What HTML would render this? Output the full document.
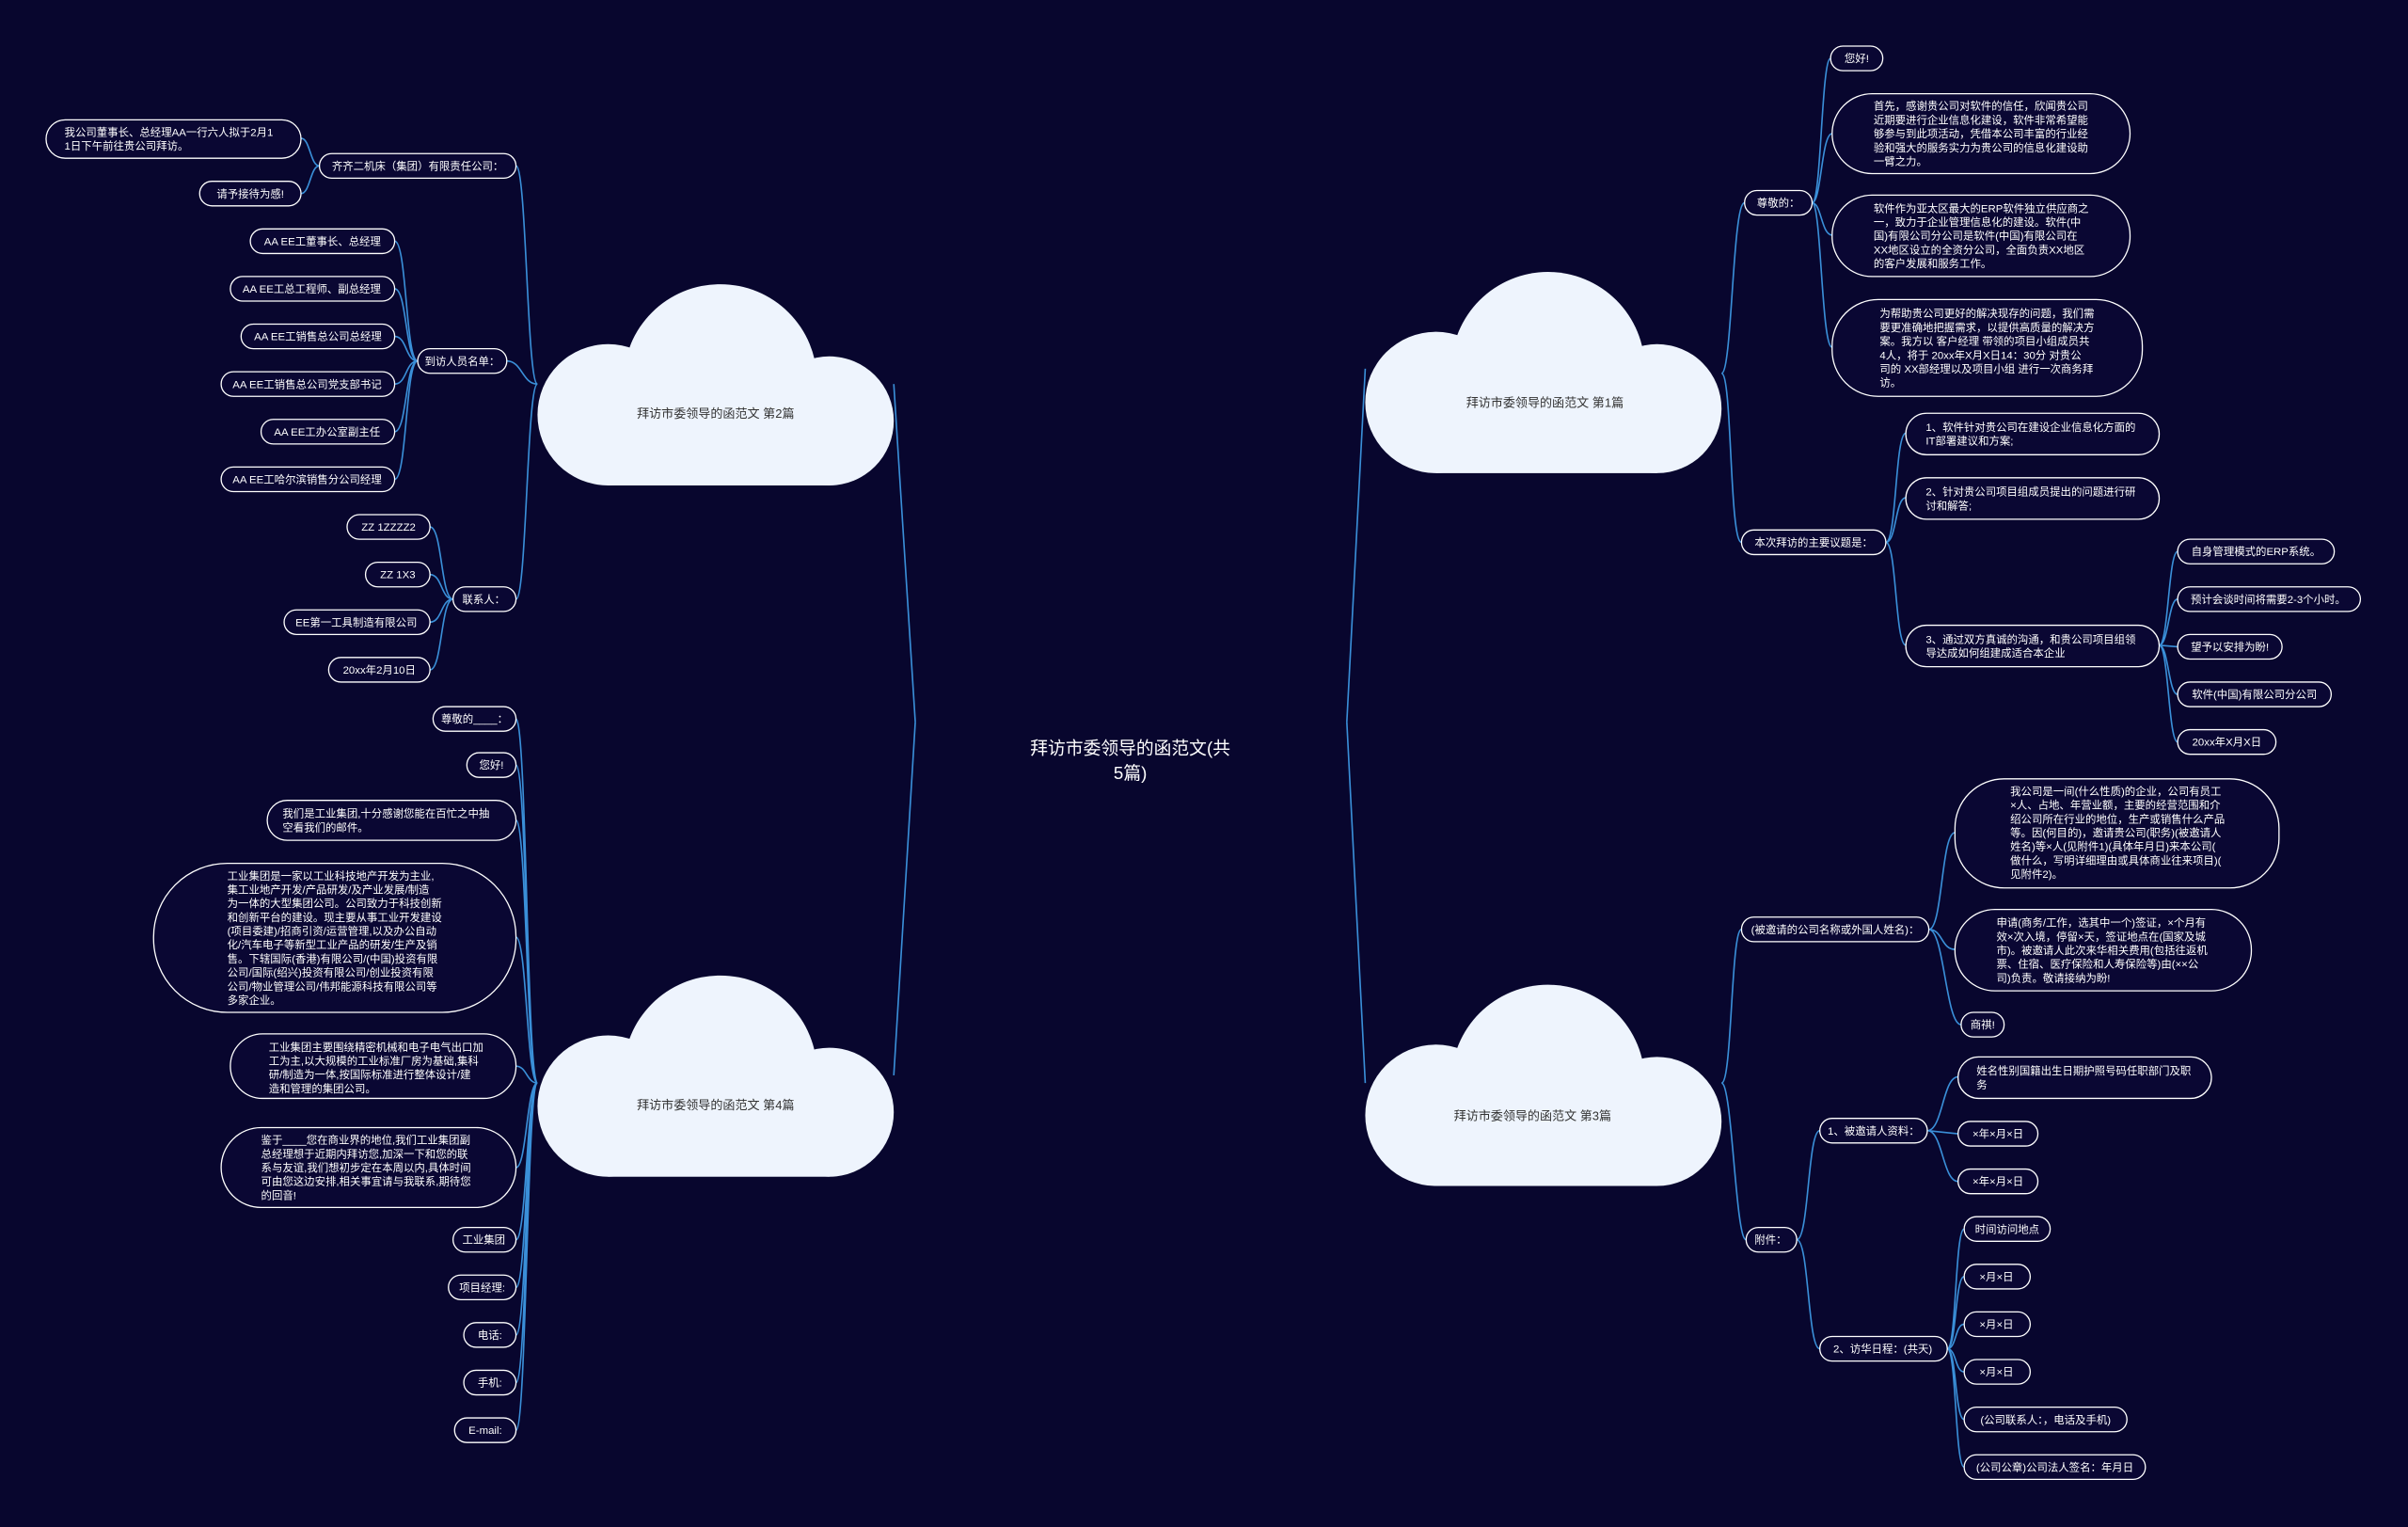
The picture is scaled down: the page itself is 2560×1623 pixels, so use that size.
<!DOCTYPE html>
<html><head><meta charset="utf-8"><style>
html,body{margin:0;padding:0;background:#08062e;width:2560px;height:1623px;overflow:hidden}
svg{display:block}
text{font-family:"Liberation Sans","Noto Sans CJK SC",sans-serif;font-size:7px;fill:#fff}
.p{fill:#0a0733;stroke:#fff;stroke-width:0.8}
.l{fill:none;stroke:#3a8fd8;stroke-width:1}
.c{fill:#eef4fd}
.ct{fill:#333;font-size:8px}
</style></head><body>
<svg width="2560" height="1623" viewBox="0 0 1568 994" preserveAspectRatio="none" xml:space="preserve">
<rect width="1568" height="994" fill="#08062e"/>
<!-- connectors center -->
<path class="l" d="M877 470 L889 240 M877 470 L889 705 M596 470 L582 250 M596 470 L582 700"/>
<!-- C1 connectors -->
<path class="l" d="M1121 243 C1128 243 1128 132 1136 132 M1121 243 C1128 243 1126 353 1134 353
M1180 132 C1186 132 1186 38 1192 38 M1180 132 C1186 132 1186 87 1193 87 M1180 132 C1186 132 1186 153 1193 153 M1180 132 C1186 132 1186 226 1193 226
M1228 353 C1235 353 1234 282 1241 282 M1228 353 C1235 353 1234 324 1241 324 M1228 353 C1235 353 1234 420 1241 420
M1406 420 C1412 420 1412 359 1418 359 M1406 420 C1412 420 1412 390 1418 390 M1406 420 L1418 421 M1406 420 C1412 420 1412 452 1418 452 M1406 420 C1412 420 1412 483 1418 483"/>
<!-- C3 connectors -->
<path class="l" d="M1121 705 C1128 705 1127 605 1134 605 M1121 705 C1128 705 1130 807 1137 807
M1256 605 C1265 605 1264 542 1273 542 M1256 605 C1265 605 1264 618 1273 618 M1256 605 C1266 605 1267 667 1277 667
M1170 807 C1178 807 1177 736 1185 736 M1170 807 C1178 807 1177 878 1185 878
M1255 736 C1265 736 1265 701 1275 701 M1255 736 L1275 738 M1255 736 C1265 736 1265 769 1275 769
M1268 878 C1274 878 1273 800 1279 800 M1268 878 C1274 878 1273 831 1279 831 M1268 878 C1274 878 1273 862 1279 862 M1268 878 C1274 878 1273 893 1279 893 M1268 878 C1274 878 1273 924 1279 924 M1268 878 C1274 878 1273 955 1279 955"/>
<!-- C2 connectors -->
<path class="l" d="M350 250 C343 250 343 108 336 108 M350 250 C340 250 340 235 330 235 M350 250 C343 250 343 390 336 390
M208 108 C202 108 202 90 196 90 M208 108 C202 108 202 126 196 126
M272 235 C264 235 265 157 257 157 M272 235 C264 235 265 188 257 188 M272 235 C264 235 265 219 257 219 M272 235 C264 235 265 250 257 250 M272 235 C264 235 265 281 257 281 M272 235 C264 235 265 312 257 312
M295 390 C287 390 288 343 280 343 M295 390 C287 390 288 374 280 374 M295 390 C287 390 288 405 280 405 M295 390 C287 390 288 436 280 436"/>
<!-- C4 connectors -->
<path class="l" d="M350 705 C343 705 343 468 336 468 M350 705 C343 705 343 498 336 498 M350 705 C343 705 343 534 336 534 M350 705 C343 705 343 610 336 610 M350 705 C343 705 343 694 336 694 M350 705 C343 705 343 760 336 760 M350 705 C343 705 343 807 336 807 M350 705 C343 705 343 838 336 838 M350 705 C343 705 343 869 336 869 M350 705 C343 705 343 900 336 900 M350 705 C343 705 343 931 336 931"/>

<!-- clouds -->
<g class="c"><circle cx="935" cy="262" r="46"/><circle cx="1008" cy="240" r="63"/><circle cx="1079" cy="266" r="42"/><rect x="935" y="240" width="144" height="68"/></g>
<text class="ct" x="1006" y="265" text-anchor="middle">拜访市委领导的函范文 第1篇</text>
<g class="c"><circle cx="396" cy="270" r="46"/><circle cx="469" cy="248" r="63"/><circle cx="540" cy="274" r="42"/><rect x="396" y="248" width="144" height="68"/></g>
<text class="ct" x="466" y="272" text-anchor="middle">拜访市委领导的函范文 第2篇</text>
<g class="c"><circle cx="935" cy="726" r="46"/><circle cx="1008" cy="704" r="63"/><circle cx="1079" cy="730" r="42"/><rect x="935" y="704" width="144" height="68"/></g>
<text class="ct" x="998" y="729" text-anchor="middle">拜访市委领导的函范文 第3篇</text>
<g class="c"><circle cx="396" cy="720" r="46"/><circle cx="469" cy="698" r="63"/><circle cx="540" cy="724" r="42"/><rect x="396" y="698" width="144" height="68"/></g>
<text class="ct" x="466" y="722" text-anchor="middle">拜访市委领导的函范文 第4篇</text>

<!-- center -->
<text x="736" y="491" text-anchor="middle" style="font-size:11.5px">拜访市委领导的函范文(共</text>
<text x="736" y="507" text-anchor="middle" style="font-size:11.5px">5篇)</text>

<!-- single pills -->
<g>
<rect class="p" x="1136" y="124" width="44" height="16" rx="8"/><text x="1158" y="134.5" text-anchor="middle">尊敬的：</text>
<rect class="p" x="1192" y="30" width="34" height="16" rx="8"/><text x="1209" y="40.5" text-anchor="middle">您好!</text>
<rect class="p" x="1134" y="345" width="94" height="16" rx="8"/><text x="1181" y="355.5" text-anchor="middle">本次拜访的主要议题是：</text>
<rect class="p" x="1418" y="351" width="102" height="16" rx="8"/><text x="1469" y="361.5" text-anchor="middle">自身管理模式的ERP系统。</text>
<rect class="p" x="1418" y="382" width="119" height="16" rx="8"/><text x="1477" y="392.5" text-anchor="middle">预计会谈时间将需要2-3个小时。</text>
<rect class="p" x="1418" y="413" width="68" height="16" rx="8"/><text x="1452" y="423.5" text-anchor="middle">望予以安排为盼!</text>
<rect class="p" x="1418" y="444" width="100" height="16" rx="8"/><text x="1468" y="454.5" text-anchor="middle">软件(中国)有限公司分公司</text>
<rect class="p" x="1418" y="475" width="64" height="16" rx="8"/><text x="1450" y="485.5" text-anchor="middle">20xx年X月X日</text>
<rect class="p" x="1134" y="597" width="122" height="16" rx="8"/><text x="1195" y="607.5" text-anchor="middle">(被邀请的公司名称或外国人姓名)：</text>
<rect class="p" x="1277" y="659" width="28" height="16" rx="8"/><text x="1291" y="669.5" text-anchor="middle">商祺!</text>
<rect class="p" x="1137" y="799" width="33" height="16" rx="8"/><text x="1153" y="809.5" text-anchor="middle">附件：</text>
<rect class="p" x="1185" y="728" width="70" height="16" rx="8"/><text x="1220" y="738.5" text-anchor="middle">1、被邀请人资料：</text>
<rect class="p" x="1185" y="870" width="83" height="16" rx="8"/><text x="1226" y="880.5" text-anchor="middle">2、访华日程：(共天)</text>
<rect class="p" x="1275" y="730" width="52" height="16" rx="8"/><text x="1301" y="740.5" text-anchor="middle">×年×月×日</text>
<rect class="p" x="1275" y="761" width="52" height="16" rx="8"/><text x="1301" y="771.5" text-anchor="middle">×年×月×日</text>
<rect class="p" x="1279" y="792" width="56" height="16" rx="8"/><text x="1307" y="802.5" text-anchor="middle">时间访问地点</text>
<rect class="p" x="1279" y="823" width="43" height="16" rx="8"/><text x="1300" y="833.5" text-anchor="middle">×月×日</text>
<rect class="p" x="1279" y="854" width="43" height="16" rx="8"/><text x="1300" y="864.5" text-anchor="middle">×月×日</text>
<rect class="p" x="1279" y="885" width="43" height="16" rx="8"/><text x="1300" y="895.5" text-anchor="middle">×月×日</text>
<rect class="p" x="1279" y="916" width="106" height="16" rx="8"/><text x="1332" y="926.5" text-anchor="middle">(公司联系人：，电话及手机)</text>
<rect class="p" x="1279" y="947" width="118" height="16" rx="8"/><text x="1338" y="957.5" text-anchor="middle">(公司公章)公司法人签名：年月日</text>

<rect class="p" x="208" y="100" width="128" height="16" rx="8"/><text x="272" y="110.5" text-anchor="middle">齐齐二机床（集团）有限责任公司：</text>
<rect class="p" x="130" y="118" width="66" height="16" rx="8"/><text x="163" y="128.5" text-anchor="middle">请予接待为感!</text>
<rect class="p" x="272" y="227" width="58" height="16" rx="8"/><text x="301" y="237.5" text-anchor="middle">到访人员名单：</text>
<rect class="p" x="163" y="149" width="94" height="16" rx="8"/><text x="210" y="159.5" text-anchor="middle">AA  EE工董事长、总经理</text>
<rect class="p" x="150" y="180" width="107" height="16" rx="8"/><text x="203" y="190.5" text-anchor="middle">AA  EE工总工程师、副总经理</text>
<rect class="p" x="157" y="211" width="100" height="16" rx="8"/><text x="207" y="221.5" text-anchor="middle">AA  EE工销售总公司总经理</text>
<rect class="p" x="144" y="242" width="113" height="16" rx="8"/><text x="200" y="252.5" text-anchor="middle">AA  EE工销售总公司党支部书记</text>
<rect class="p" x="170" y="273" width="87" height="16" rx="8"/><text x="213" y="283.5" text-anchor="middle">AA  EE工办公室副主任</text>
<rect class="p" x="144" y="304" width="113" height="16" rx="8"/><text x="200" y="314.5" text-anchor="middle">AA  EE工哈尔滨销售分公司经理</text>
<rect class="p" x="295" y="382" width="41" height="16" rx="8"/><text x="315" y="392.5" text-anchor="middle">联系人：</text>
<rect class="p" x="226" y="335" width="54" height="16" rx="8"/><text x="253" y="345.5" text-anchor="middle">ZZ  1ZZZZ2</text>
<rect class="p" x="238" y="366" width="42" height="16" rx="8"/><text x="259" y="376.5" text-anchor="middle">ZZ  1X3</text>
<rect class="p" x="185" y="397" width="95" height="16" rx="8"/><text x="232" y="407.5" text-anchor="middle">EE第一工具制造有限公司</text>
<rect class="p" x="214" y="428" width="66" height="16" rx="8"/><text x="247" y="438.5" text-anchor="middle">20xx年2月10日</text>
<rect class="p" x="282" y="460" width="54" height="16" rx="8"/><text x="309" y="470.5" text-anchor="middle">尊敬的____：</text>
<rect class="p" x="304" y="490" width="32" height="16" rx="8"/><text x="320" y="500.5" text-anchor="middle">您好!</text>
<rect class="p" x="295" y="799" width="41" height="16" rx="8"/><text x="315" y="809.5" text-anchor="middle">工业集团</text>
<rect class="p" x="292" y="830" width="44" height="16" rx="8"/><text x="314" y="840.5" text-anchor="middle">项目经理:</text>
<rect class="p" x="302" y="861" width="34" height="16" rx="8"/><text x="319" y="871.5" text-anchor="middle">电话:</text>
<rect class="p" x="302" y="892" width="34" height="16" rx="8"/><text x="319" y="902.5" text-anchor="middle">手机:</text>
<rect class="p" x="296" y="923" width="40" height="16" rx="8"/><text x="316" y="933.5" text-anchor="middle">E-mail:</text>
</g>

<!-- multi-line pills -->
<rect class="p" x="1193" y="61" width="194" height="52" rx="26"/>
<text x="1220" y="71.5"><tspan x="1220">首先，感谢贵公司对软件的信任，欣闻贵公司</tspan><tspan x="1220" dy="9">近期要进行企业信息化建设，软件非常希望能</tspan><tspan x="1220" dy="9">够参与到此项活动，凭借本公司丰富的行业经</tspan><tspan x="1220" dy="9">验和强大的服务实力为贵公司的信息化建设助</tspan><tspan x="1220" dy="9">一臂之力。</tspan></text>
<rect class="p" x="1193" y="127" width="194" height="53" rx="26"/>
<text x="1220" y="138"><tspan x="1220">软件作为亚太区最大的ERP软件独立供应商之</tspan><tspan x="1220" dy="9">一，致力于企业管理信息化的建设。软件(中</tspan><tspan x="1220" dy="9">国)有限公司分公司是软件(中国)有限公司在</tspan><tspan x="1220" dy="9">XX地区设立的全资分公司，全面负责XX地区</tspan><tspan x="1220" dy="9">的客户发展和服务工作。</tspan></text>
<rect class="p" x="1193" y="195" width="202" height="63" rx="30"/>
<text x="1224" y="206.5"><tspan x="1224">为帮助贵公司更好的解决现存的问题，我们需</tspan><tspan x="1224" dy="9">要更准确地把握需求，以提供高质量的解决方</tspan><tspan x="1224" dy="9">案。我方以 客户经理 带领的项目小组成员共</tspan><tspan x="1224" dy="9">4人，将于 20xx年X月X日14：30分 对贵公</tspan><tspan x="1224" dy="9">司的 XX部经理以及项目小组 进行一次商务拜</tspan><tspan x="1224" dy="9">访。</tspan></text>
<rect class="p" x="1241" y="269" width="165" height="27" rx="13.5"/>
<text x="1254" y="280.5"><tspan x="1254">1、软件针对贵公司在建设企业信息化方面的</tspan><tspan x="1254" dy="9">IT部署建议和方案;</tspan></text>
<rect class="p" x="1241" y="311" width="165" height="27" rx="13.5"/>
<text x="1254" y="322.5"><tspan x="1254">2、针对贵公司项目组成员提出的问题进行研</tspan><tspan x="1254" dy="9">讨和解答;</tspan></text>
<rect class="p" x="1241" y="407" width="165" height="27" rx="13.5"/>
<text x="1254" y="418.5"><tspan x="1254">3、通过双方真诚的沟通，和贵公司项目组领</tspan><tspan x="1254" dy="9">导达成如何组建成适合本企业</tspan></text>
<rect class="p" x="1273" y="507" width="211" height="71" rx="32"/>
<text x="1309" y="517.5"><tspan x="1309">我公司是一间(什么性质)的企业，公司有员工</tspan><tspan x="1309" dy="9">×人、占地、年营业额，主要的经营范围和介</tspan><tspan x="1309" dy="9">绍公司所在行业的地位，生产或销售什么产品</tspan><tspan x="1309" dy="9">等。因(何目的)，邀请贵公司(职务)(被邀请人</tspan><tspan x="1309" dy="9">姓名)等×人(见附件1)(具体年月日)来本公司(</tspan><tspan x="1309" dy="9">做什么，写明详细理由或具体商业往来项目)(</tspan><tspan x="1309" dy="9">见附件2)。</tspan></text>
<rect class="p" x="1273" y="592" width="193" height="53" rx="26"/>
<text x="1300" y="603"><tspan x="1300">申请(商务/工作，选其中一个)签证，×个月有</tspan><tspan x="1300" dy="9">效×次入境，停留×天，签证地点在(国家及城</tspan><tspan x="1300" dy="9">市)。被邀请人此次来华相关费用(包括往返机</tspan><tspan x="1300" dy="9">票、住宿、医疗保险和人寿保险等)由(××公</tspan><tspan x="1300" dy="9">司)负责。敬请接纳为盼!</tspan></text>
<rect class="p" x="1275" y="688" width="165" height="27" rx="13.5"/>
<text x="1287" y="699.5"><tspan x="1287">姓名性别国籍出生日期护照号码任职部门及职</tspan><tspan x="1287" dy="9">务</tspan></text>

<rect class="p" x="30" y="78" width="166" height="25" rx="12.5"/>
<text x="42" y="88.5"><tspan x="42">我公司董事长、总经理AA一行六人拟于2月1</tspan><tspan x="42" dy="9">1日下午前往贵公司拜访。</tspan></text>
<rect class="p" x="174" y="521" width="162" height="26" rx="13"/>
<text x="184" y="532"><tspan x="184">我们是工业集团,十分感谢您能在百忙之中抽</tspan><tspan x="184" dy="9">空看我们的邮件。</tspan></text>
<rect class="p" x="100" y="562" width="236" height="97" rx="48"/>
<text x="148" y="572.5"><tspan x="148">工业集团是一家以工业科技地产开发为主业,</tspan><tspan x="148" dy="9">集工业地产开发/产品研发/及产业发展/制造</tspan><tspan x="148" dy="9">为一体的大型集团公司。公司致力于科技创新</tspan><tspan x="148" dy="9">和创新平台的建设。现主要从事工业开发建设</tspan><tspan x="148" dy="9">(项目委建)/招商引资/运营管理,以及办公自动</tspan><tspan x="148" dy="9">化/汽车电子等新型工业产品的研发/生产及销</tspan><tspan x="148" dy="9">售。下辖国际(香港)有限公司/(中国)投资有限</tspan><tspan x="148" dy="9">公司/国际(绍兴)投资有限公司/创业投资有限</tspan><tspan x="148" dy="9">公司/物业管理公司/伟邦能源科技有限公司等</tspan><tspan x="148" dy="9">多家企业。</tspan></text>
<rect class="p" x="150" y="673" width="186" height="42" rx="21"/>
<text x="175" y="684"><tspan x="175">工业集团主要围绕精密机械和电子电气出口加</tspan><tspan x="175" dy="9">工为主,以大规模的工业标准厂房为基础,集科</tspan><tspan x="175" dy="9">研/制造为一体,按国际标准进行整体设计/建</tspan><tspan x="175" dy="9">造和管理的集团公司。</tspan></text>
<rect class="p" x="144" y="734" width="192" height="52" rx="26"/>
<text x="170" y="744.5"><tspan x="170">鉴于____您在商业界的地位,我们工业集团副</tspan><tspan x="170" dy="9">总经理想于近期内拜访您,加深一下和您的联</tspan><tspan x="170" dy="9">系与友谊,我们想初步定在本周以内,具体时间</tspan><tspan x="170" dy="9">可由您这边安排,相关事宜请与我联系,期待您</tspan><tspan x="170" dy="9">的回音!</tspan></text>
</svg>
</body></html>
